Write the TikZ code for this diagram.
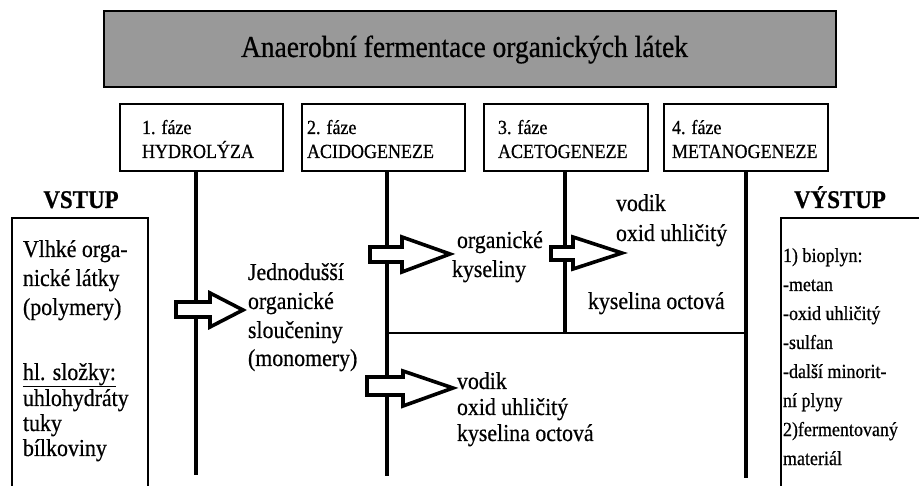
\documentclass[tikz,border=0pt]{standalone}
\usepackage{fontspec}
\setmainfont{Liberation Serif}[FakeStretch=0.9,FakeBold=0.6]
\definecolor{titlegray}{RGB}{153,153,153}
\newcommand\blockarr[8]{%
  \draw[arrowshape] (#1,#2) -- (#4,#2) -- (#4,#5) -- (#7,#8) -- (#4,#6) -- (#4,#3) -- (#1,#3) -- cycle;}
\begin{document}
\begin{tikzpicture}[x=1pt,y=-1pt,
  every node/.style={inner sep=0pt, outer sep=0pt},
  framebox/.style={draw, line width=1.4pt},
  body/.style={font=\fontsize{24.3}{28}\selectfont, anchor=base west},
  smalltxt/.style={font=\fontsize{20}{23}\selectfont, anchor=base west},
  phasetxt/.style={font=\fontsize{20}{23}\selectfont, anchor=base west},
  headtxt/.style={font=\fontsize{25.5}{29}\selectfont\bfseries, anchor=base},
  stem/.style={line width=4pt},
  thinline/.style={line width=1.4pt},
  arrowshape/.style={draw, fill=white, line width=3.6pt, line join=miter, miter limit=10}]
\useasboundingbox (0,0) rectangle (919,486);
\fill[white] (0,0) rectangle (919,486);

% title
\node[framebox, fill=titlegray, minimum width=732pt, minimum height=76pt] (title) at (470,49) {};
\node[font=\fontsize{30.5}{35}\selectfont, anchor=base] (titletxt) at (464.5,57) {Anaerobní fermentace organických látek};

% phase boxes
\node[framebox, minimum width=163pt, minimum height=67pt] (p1) at (201.5,137.5) {};
\node[framebox, minimum width=163pt, minimum height=67pt] (p2) at (383.5,137.5) {};
\node[framebox, minimum width=164pt, minimum height=67pt] (p3) at (566,137.5) {};
\node[framebox, minimum width=164pt, minimum height=67pt] (p4) at (746,137.5) {};

\node[phasetxt] (p1a) at (142,134) {1. fáze};
\node[phasetxt] (p1b) at (142,158) {HYDROLÝZA};
\node[phasetxt] (p2a) at (307,134) {2. fáze};
\node[phasetxt] (p2b) at (307,158) {ACIDOGENEZE};
\node[phasetxt] (p3a) at (498,134) {3. fáze};
\node[phasetxt] (p3b) at (498,158) {ACETOGENEZE};
\node[phasetxt] (p4a) at (672,134) {4. fáze};
\node[phasetxt] (p4b) at (672,158) {METANOGENEZE};

% vertical lines
\coordinate (l1) at (196,475);
\coordinate (l2) at (387,476);
\coordinate (l3) at (565,333);
\coordinate (l4) at (746,478);
\coordinate (h2) at (387,333);
\coordinate (h4) at (746,333);
\draw[stem] (p1.south -| l1) -- (l1);
\draw[stem] (p2.south -| l2) -- (l2);
\draw[stem] (p3.south -| l3) -- (l3);
\draw[stem] (p4.south -| l4) -- (l4);
\draw[thinline] (h2) -- (h4);

% block arrows
\blockarr{176}{302}{317}{210}{293}{327}{243}{310}
\blockarr{370}{247}{262}{402}{237}{272}{450}{254}
\blockarr{551}{247}{260}{573}{237}{269}{622}{253}
\blockarr{367}{377}{395}{403}{371}{406}{453}{388}

% input / output
\node[headtxt] (vstup) at (81,208) {VSTUP};
\node[headtxt] (vystup) at (840,208) {VÝSTUP};
\draw[framebox] (12,495) |- (148,218) -- (148,495);
\draw[framebox] (781,495) |- (930,218);

\node[body] (in1) at (23,257) {Vlhké orga-};
\node[body] (in2) at (23,286) {nické látky};
\node[body] (in3) at (23,315) {(polymery)};
\node[body] (in4) at (23,380) {\underline{hl. složky:}};
\node[body] (in5) at (23,406) {uhlohydráty};
\node[body] (in6) at (23,431) {tuky};
\node[body] (in7) at (23,456) {bílkoviny};

\node[smalltxt] (out1) at (783,262) {1) bioplyn:};
\node[smalltxt] (out2) at (783,291) {-metan};
\node[smalltxt] (out3) at (783,320) {-oxid uhličitý};
\node[smalltxt] (out4) at (783,349) {-sulfan};
\node[smalltxt] (out5) at (783,378) {-další minorit-};
\node[smalltxt] (out6) at (783,407) {ní plyny};
\node[smalltxt] (out7) at (783,436) {2)fermentovaný};
\node[smalltxt] (out8) at (783,465) {materiál};

% middle texts
\node[body] (m1) at (248,280) {Jednodušší};
\node[body] (m2) at (248,309) {organické};
\node[body] (m3) at (248,338) {sloučeniny};
\node[body] (m4) at (248,366) {(monomery)};

\node[body] (k1) at (457,248) {organické};
\node[body] (k2) at (452,277) {kyseliny};

\node[body] (v1) at (616,211) {vodik};
\node[body] (v2) at (616,241) {oxid uhličitý};
\node[body] (v3) at (588,309) {kyselina octová};

\node[body] (w1) at (457,389) {vodik};
\node[body] (w2) at (457,415) {oxid uhličitý};
\node[body] (w3) at (457,441) {kyselina octová};
\end{tikzpicture}
\end{document}
